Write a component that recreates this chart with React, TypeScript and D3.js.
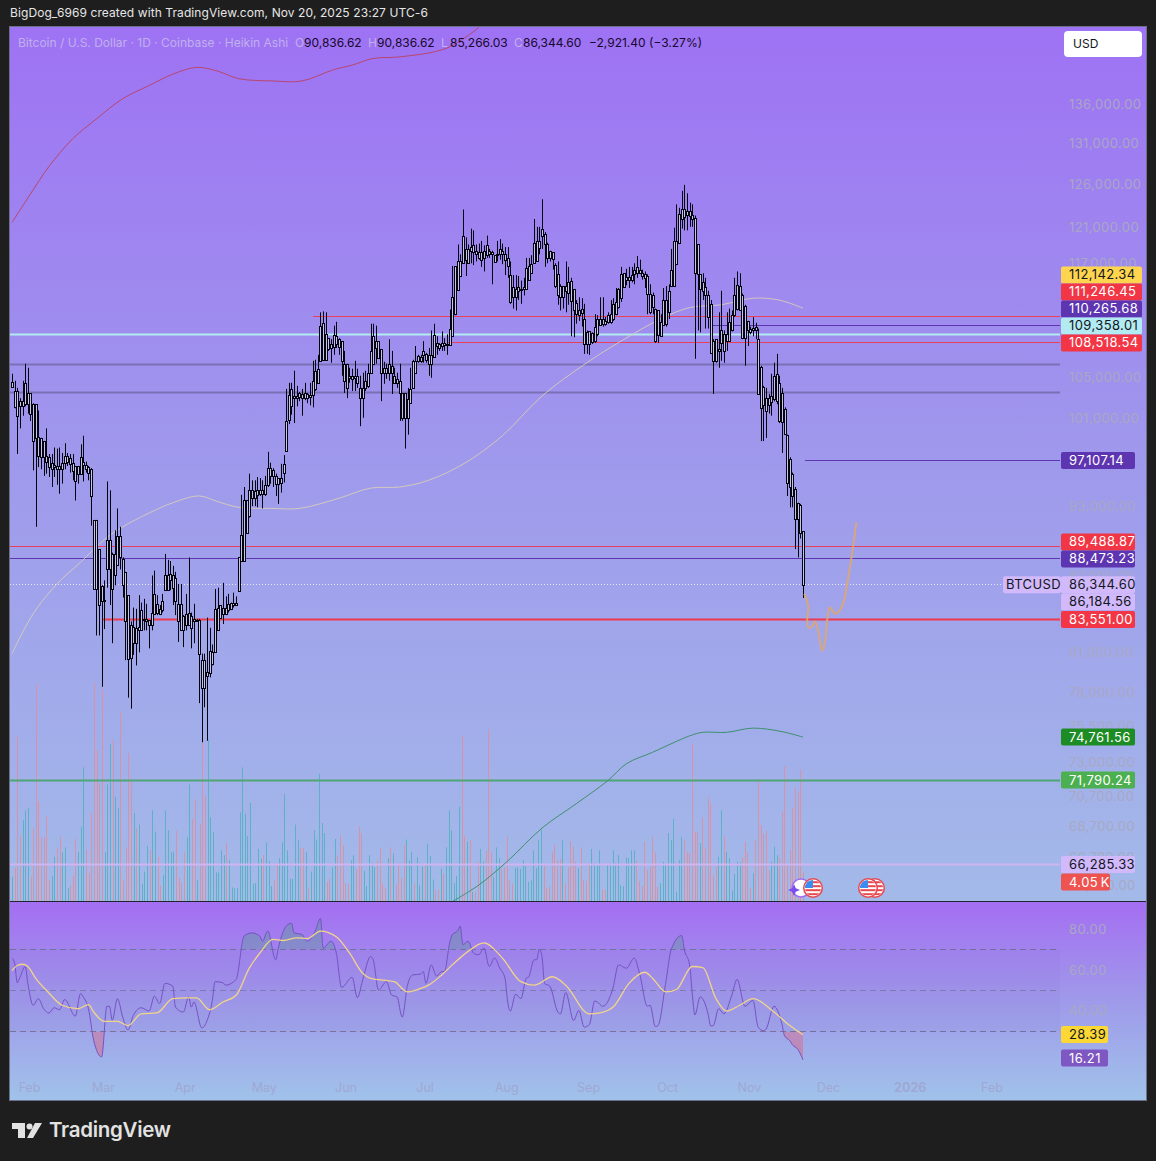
import React from "react";
import * as d3 from "d3";

// BTCUSD daily Heikin Ashi. Prices in thousands of USD.
// each candle: [high, body top, body bottom, low]
const janCandles = [
  [105.4, 104.6, 104.1, 104.0], [104.7, 103.7, 102.1, 102.0], [104.0, 103.7, 101.3, 97.7], [103.0, 102.7, 102.2, 100.1],
  [104.7, 102.7, 102.2, 101.3], [106.4, 104.5, 102.4, 102.2], [106.0, 103.5, 102.4, 101.5], [103.5, 103.5, 101.5, 100.8],
];
const febCandles = [
  [102.5, 102.4, 98.9, 96.2], [102.4, 102.4, 99.2, 91.2], [101.8, 99.3, 97.5, 96.5], [99.2, 99.2, 97.4, 96.3],
  [98.9, 98.9, 97.4, 95.7], [100.1, 97.5, 97.0, 95.9], [97.7, 97.4, 96.5, 95.6], [97.7, 96.9, 96.3, 94.7],
  [98.3, 96.7, 96.5, 95.6], [98.2, 96.6, 96.3, 94.9], [98.3, 96.6, 96.3, 94.1], [97.8, 96.9, 96.3, 95.0],
  [98.7, 97.5, 96.9, 96.3], [97.8, 97.5, 97.0, 96.6], [97.7, 97.3, 96.8, 96.0], [97.7, 96.9, 96.1, 95.3],
  [96.6, 96.6, 95.2, 93.5], [96.6, 96.6, 95.9, 95.0], [98.6, 97.4, 95.9, 95.9], [99.4, 97.0, 96.7, 95.2],
  [97.0, 96.7, 96.3, 96.0], [96.6, 96.5, 96.0, 95.3], [96.4, 96.3, 93.9, 91.3], [91.8, 91.8, 86.0, 86.0],
  [91.8, 91.8, 86.0, 82.3], [89.3, 89.3, 84.7, 82.3], [86.3, 86.2, 85.0, 78.4], [86.7, 85.1, 85.0, 82.8],
];
const marCandles = [
  [95.2, 90.1, 87.6, 86.1], [94.4, 90.1, 87.6, 84.7], [89.0, 88.9, 86.0, 81.7], [90.9, 88.9, 87.1, 86.3],
  [92.8, 90.4, 88.0, 87.9], [91.2, 90.4, 88.6, 87.6], [88.6, 88.5, 86.3, 85.3], [87.4, 87.4, 83.4, 80.4],
  [85.5, 85.5, 80.5, 77.6], [83.4, 83.1, 80.6, 76.8], [84.5, 83.0, 81.7, 80.8], [84.4, 82.9, 81.7, 80.0],
  [85.5, 83.0, 82.7, 81.0], [84.9, 84.3, 82.7, 82.7], [85.2, 83.6, 83.5, 82.7], [84.8, 83.6, 83.4, 82.7],
  [83.5, 83.5, 83.1, 81.3], [87.1, 84.1, 83.1, 82.7], [87.5, 85.6, 84.0, 84.0], [85.5, 84.8, 84.1, 83.9],
  [84.7, 84.4, 84.0, 83.9], [85.6, 85.0, 84.3, 84.1], [88.9, 87.1, 85.9, 85.9], [88.4, 87.1, 85.9, 85.9],
  [88.3, 87.2, 86.7, 85.9], [87.9, 87.1, 86.1, 84.7], [87.4, 86.9, 85.0, 83.9], [86.4, 84.8, 83.4, 81.8],
  [86.4, 84.8, 82.7, 82.7], [83.9, 83.8, 82.7, 81.4], [85.6, 84.0, 83.1, 82.7],
];
const aprCandles = [
  [88.6, 84.1, 83.1, 83.1], [84.1, 83.8, 82.9, 81.3], [84.8, 83.6, 83.4, 81.7], [83.6, 83.5, 83.4, 83.4],
  [83.6, 83.5, 80.9, 77.2], [80.9, 80.4, 78.3, 74.4], [80.9, 80.4, 78.3, 76.9], [83.7, 79.5, 79.2, 74.5],
  [82.9, 81.1, 79.4, 79.1], [81.6, 81.0, 80.1, 80.0], [86.0, 84.4, 81.0, 81.0], [86.1, 84.5, 82.7, 82.7],
  [84.7, 84.7, 83.7, 83.6], [86.5, 84.5, 84.0, 83.2], [85.4, 84.5, 84.0, 83.9], [85.6, 84.8, 84.3, 84.1],
  [84.9, 84.9, 84.4, 84.3], [85.7, 84.9, 84.7, 84.5], [85.4, 84.9, 84.7, 84.7], [88.6, 88.6, 85.8, 85.8],
  [94.0, 90.5, 88.3, 88.3], [94.7, 93.5, 88.3, 88.3], [93.5, 93.5, 90.7, 90.7], [95.9, 94.4, 92.1, 92.0],
  [95.3, 94.4, 93.7, 93.0], [95.3, 94.3, 93.7, 93.0], [95.6, 94.4, 94.0, 92.9], [95.5, 94.4, 94.1, 93.9],
  [95.3, 94.4, 94.1, 92.8], [95.7, 94.9, 94.1, 93.9],
];
const mayCandles = [
  [97.9, 96.4, 94.9, 94.7], [96.9, 96.4, 95.7, 95.0], [96.4, 96.2, 95.7, 94.7], [95.9, 95.7, 95.0, 93.9],
  [95.5, 95.5, 95.0, 93.2], [96.8, 95.5, 95.1, 94.2], [97.6, 96.8, 96.0, 95.1], [103.9, 100.8, 98.0, 98.0],
  [104.5, 103.3, 100.9, 100.5], [104.5, 103.9, 102.2, 101.4], [105.7, 103.2, 103.0, 100.6], [104.2, 103.2, 103.0, 102.2],
  [103.6, 103.5, 103.1, 102.7], [103.9, 103.4, 103.0, 101.3], [104.5, 103.5, 103.0, 102.8], [103.5, 103.4, 103.0, 102.5],
  [104.5, 103.3, 103.1, 102.3], [106.7, 104.7, 103.3, 102.1], [106.8, 105.7, 103.9, 103.7], [107.3, 105.9, 104.5, 104.5],
  [111.7, 110.3, 106.7, 106.7], [111.8, 110.6, 106.8, 106.8], [111.7, 109.4, 106.8, 106.7], [109.0, 109.0, 107.9, 107.7],
  [108.9, 108.4, 108.0, 106.5], [110.3, 109.3, 108.1, 107.3], [110.7, 109.2, 108.4, 108.0], [109.0, 108.9, 108.1, 107.3],
  [108.7, 108.7, 106.7, 105.2], [107.7, 106.4, 104.7, 103.5], [106.4, 106.4, 104.0, 103.0],
];
const junCandles = [
  [106.0, 105.2, 105.0, 104.5], [105.9, 105.2, 104.9, 103.7], [106.7, 105.2, 105.0, 103.7], [105.9, 105.2, 104.5, 104.0],
  [105.2, 104.0, 103.0, 100.3], [105.5, 104.0, 103.0, 101.1], [105.7, 104.7, 104.0, 103.7], [106.4, 105.5, 104.2, 104.0],
  [110.5, 107.7, 105.5, 105.4], [110.5, 109.2, 106.4, 106.4], [110.3, 108.7, 108.0, 106.4], [108.7, 108.7, 107.0, 107.0],
  [107.9, 107.9, 105.5, 102.7], [106.6, 106.0, 105.5, 104.4], [106.4, 106.0, 105.5, 104.9], [108.9, 106.4, 105.5, 104.7],
  [107.7, 106.2, 105.5, 103.4], [106.0, 105.2, 104.5, 104.4], [105.5, 104.9, 104.5, 104.0], [106.4, 104.7, 103.5, 100.8],
  [103.5, 103.5, 101.1, 100.8], [103.5, 103.5, 101.1, 98.2], [104.0, 102.9, 101.1, 99.5], [106.0, 103.9, 102.5, 102.5],
  [106.8, 106.7, 104.0, 104.0], [108.2, 106.7, 105.5, 105.5], [107.3, 107.2, 106.7, 106.5], [107.3, 107.1, 106.7, 106.5],
  [108.7, 107.7, 107.3, 106.5], [107.5, 107.4, 106.8, 106.5],
];
const julCandles = [
  [108.0, 107.3, 106.4, 105.2], [109.8, 107.3, 106.4, 105.0], [110.5, 109.3, 107.1, 107.1], [109.2, 108.5, 108.2, 107.3],
  [108.5, 108.4, 108.0, 107.7], [109.7, 108.5, 108.2, 107.7], [109.0, 108.5, 108.3, 107.7], [109.4, 108.4, 108.3, 107.3],
  [112.0, 110.0, 108.3, 108.3], [116.7, 113.3, 109.2, 109.2], [116.7, 116.7, 111.5, 111.4], [119.1, 117.2, 114.1, 114.1],
  [118.0, 117.2, 115.6, 115.6], [123.1, 120.1, 117.0, 117.0], [119.9, 118.6, 117.4, 115.6], [119.1, 118.6, 117.0, 117.0],
  [120.9, 118.8, 118.4, 117.0], [120.7, 119.0, 118.2, 116.8], [119.1, 118.4, 118.0, 117.2], [119.2, 118.2, 117.6, 117.4],
  [119.5, 118.2, 117.4, 116.6], [119.0, 118.4, 117.6, 116.1], [120.1, 119.0, 117.9, 117.6], [118.6, 118.4, 118.0, 117.6],
  [118.4, 118.3, 118.0, 114.7], [117.9, 117.9, 117.1, 117.1], [119.5, 118.0, 117.9, 117.2], [119.7, 118.6, 118.0, 117.4],
  [119.2, 118.4, 118.0, 116.9], [118.8, 118.0, 117.4, 115.7], [118.8, 117.6, 116.7, 115.4],
];
const augCandles = [
  [117.2, 115.7, 112.8, 112.6], [115.7, 114.4, 113.3, 112.1], [115.7, 114.2, 113.3, 111.9], [115.6, 114.4, 114.0, 113.0],
  [115.1, 114.2, 114.1, 112.6], [115.4, 114.4, 114.2, 113.5], [117.6, 116.5, 114.2, 114.2], [117.6, 116.7, 115.2, 115.1],
  [117.9, 116.9, 115.9, 115.9], [122.0, 119.3, 117.0, 117.0], [121.1, 119.5, 117.2, 117.2], [121.1, 119.5, 118.7, 118.0],
  [124.3, 120.8, 120.0, 118.6], [120.5, 120.3, 119.2, 116.6], [119.3, 119.2, 117.6, 117.0], [118.4, 118.4, 117.6, 117.2],
  [118.2, 118.2, 117.5, 116.3], [117.0, 116.8, 114.5, 114.3], [117.2, 115.8, 113.5, 112.5], [114.7, 114.5, 113.3, 111.9],
  [114.5, 114.5, 113.3, 112.1], [117.2, 114.5, 114.0, 111.7], [116.6, 114.9, 113.8, 112.5], [115.4, 115.1, 112.9, 109.2],
  [114.2, 114.2, 111.9, 109.1], [113.0, 112.7, 111.5, 110.5], [113.3, 111.9, 111.4, 110.8], [113.2, 112.0, 111.6, 110.2],
  [112.6, 111.0, 108.4, 107.4], [109.8, 109.6, 108.4, 107.4], [109.7, 109.7, 108.4, 107.3],
];
const sepCandles = [
  [109.6, 109.5, 108.6, 108.4], [111.5, 110.2, 108.7, 108.5], [111.4, 111.0, 109.4, 109.2], [113.3, 111.0, 110.4, 110.3],
  [113.3, 111.0, 110.5, 110.2], [111.2, 110.8, 110.5, 110.3], [111.7, 111.4, 110.7, 110.5], [113.0, 111.5, 110.7, 110.5],
  [113.2, 112.6, 111.0, 110.8], [114.3, 112.8, 111.5, 111.4], [114.3, 114.2, 112.3, 112.1], [116.6, 115.8, 113.2, 112.8],
  [115.9, 115.9, 114.4, 114.3], [116.4, 115.5, 115.2, 114.6], [116.6, 115.5, 115.2, 114.3], [116.6, 115.7, 115.2, 114.9],
  [117.0, 116.3, 115.8, 114.7], [117.8, 116.6, 115.9, 115.4], [117.4, 116.3, 115.9, 115.8], [116.3, 115.9, 115.6, 115.2],
  [116.1, 115.8, 115.4, 114.3], [115.8, 115.6, 113.7, 111.5], [114.7, 113.7, 111.7, 111.5], [113.8, 113.5, 112.3, 111.5],
  [112.1, 112.0, 108.7, 108.5], [111.9, 111.9, 109.3, 108.5], [111.5, 110.7, 109.2, 109.2], [114.3, 113.0, 110.4, 110.3],
  [114.5, 113.0, 110.5, 110.2], [114.7, 114.0, 111.7, 111.0],
];
const octCandles = [
  [118.6, 116.3, 114.5, 114.4], [121.0, 119.5, 114.5, 114.5], [123.7, 119.5, 116.9, 116.8], [123.3, 122.6, 119.3, 119.3],
  [125.3, 123.2, 122.0, 120.9], [126.0, 123.2, 122.2, 120.7], [125.0, 122.9, 122.5, 120.7], [123.9, 122.9, 122.4, 121.1],
  [123.7, 122.5, 122.0, 121.1], [122.4, 122.1, 115.9, 106.9], [119.1, 119.1, 115.8, 109.8], [115.8, 115.8, 114.2, 109.6],
  [115.9, 114.9, 114.0, 113.0], [115.4, 114.4, 113.5, 110.0], [114.0, 113.5, 111.2, 110.0], [113.0, 112.6, 107.5, 107.4],
  [108.9, 108.7, 106.7, 103.4], [108.9, 108.9, 106.7, 106.5], [111.7, 107.9, 107.7, 106.0], [114.0, 109.9, 108.5, 106.7],
  [109.8, 109.4, 107.7, 106.5], [111.7, 109.4, 108.7, 107.7], [112.1, 110.7, 108.7, 108.7], [111.9, 111.4, 109.8, 109.7],
  [115.4, 113.5, 111.4, 111.2], [116.1, 114.6, 112.0, 111.9], [115.9, 114.5, 111.9, 111.9], [113.7, 113.5, 109.0, 108.9],
  [112.5, 112.4, 109.0, 106.2], [110.8, 110.8, 109.8, 108.2], [110.2, 110.0, 109.6, 109.4],
];
const novCandles = [
  [111.2, 110.1, 109.8, 109.2], [110.6, 110.2, 109.9, 108.9], [110.0, 108.9, 103.4, 103.4], [106.2, 106.1, 102.0, 98.9],
  [104.2, 104.1, 102.3, 98.9], [104.0, 103.0, 101.8, 99.2], [103.4, 103.0, 102.3, 101.5], [105.4, 103.2, 102.6, 101.3],
  [106.5, 105.2, 102.9, 102.7], [107.4, 105.4, 102.7, 102.4], [105.2, 104.5, 100.8, 100.6], [104.0, 103.5, 100.7, 97.8],
  [102.1, 101.9, 99.6, 99.5], [99.5, 99.5, 95.1, 93.9], [97.4, 97.2, 94.7, 92.9], [96.0, 95.9, 93.9, 92.9],
  [94.7, 94.5, 91.9, 89.3], [93.3, 93.3, 91.9, 88.6], [93.2, 93.1, 90.7, 90.2], [90.84, 90.84, 86.34, 85.27],
];

// volume in thousands of BTC, negative = down day
const volumeFirstHalf = [
  3.4, -4.6, -23.0, -9.2, 11.3, 12.7, 13.0, -3.4, -10.1, -30.4, -13.9, -9.0, -8.9, -11.9, -2.9, 3.5, 6.2, -7.5, -9.0, 6.8,
  7.5, 1.8, -2.2, -3.5, -8.7, 6.9, 10.4, 18.7, -7.2, -3.9, -12.3, -30.5, -21.1, -16.5, -29.6, 6.8, 16.3, 22.0, -22.5, 14.6,
  13.0, -26.4, -2.9, -7.5, -20.7, -16.7, 12.3, -10.2, 10.7, 2.4, 4.1, 7.7, -7.1, 12.7, 9.7, -6.2, -2.2, 3.6, 12.7, 9.9,
  6.8, 6.9, -9.8, -3.3, -2.6, -6.9, 9.0, 16.3, -11.5, -14.2, 2.9, -10.8, -22.3, -14.6, 22.6, 11.7, 9.7, 4.0, 4.0, 7.1,
  6.4, -8.1, 5.7, 1.9, 1.8, 1.8, 12.4, 18.7, 12.2, 9.1, 13.7, 2.4, 2.5, 7.3, 5.9, -6.4, 8.2, 5.6, 2.1, -2.9,
  -5.2, 6.0, 8.2, 15.0, 7.1, 3.1, 3.1, 10.7, 8.5, -7.5, -7.4, 6.8, -1.9, 4.1, 9.9, 8.6, 17.8, 10.9, 9.5, -2.7,
  -3.1, 4.7, 8.7, -6.4, -9.2, -7.8, -2.5, -2.4, 5.7, 6.4, -4.5, -10.4, -9.5, 4.2, 2.1, 6.4, 5.3, 4.7, -5.6, -7.4,
  -2.4, -1.8, 6.0, -7.5, 6.7, -2.4, -5.1, -3.2, -7.8, 8.6, 5.7, 6.9, -2.5, 6.1,
];
const volumeSecondHalf = [
  2.2, 4.8, -5.1, 8.0, 6.3, 3.0, -1.6, -1.6, 4.5, -3.8, 7.5, 12.7, 9.9, 2.5, 3.5, 13.2, -23.1, -9.1, 8.3, -8.5,
  1.3, -1.3, -5.5, 7.3, 5.5, -7.1, -24.0, -6.9, 3.4, 7.5, 6.0, -4.6, -4.7, -9.0, -2.9, -2.4, 4.6, 4.7, 4.5, 5.7,
  4.9, 2.7, 2.9, 7.1, 4.6, 8.5, 10.0, -5.0, -1.8, -2.0, -6.8, -7.8, -5.7, -5.8, 8.5, -2.5, -4.7, -8.4, -7.6, -5.5,
  4.6, -7.5, -2.9, -2.8, -5.3, 7.3, 5.1, 5.1, 7.1, -1.6, -1.6, 5.1, 5.2, 7.1, 5.3, 6.4, 2.2, 2.1, 6.1, 6.0,
  7.1, 7.1, -5.7, -2.8, -2.1, -8.3, -4.4, -4.8, -9.0, -6.8, -2.0, 2.5, 5.5, 5.1, 9.5, 8.5, 11.5, 1.3, 5.7, 9.0,
  -8.5, -6.9, -6.7, -21.9, -9.7, -9.6, 8.1, -11.7, -7.4, -14.5, -13.6, -3.6, -4.8, 6.2, 12.7, -9.1, 6.9, 6.0, 1.5, 3.8,
  5.5, 5.4, -6.1, -8.3, -6.8, -1.8, 3.9, -8.5, -16.7, -10.6, -9.4, -9.8, -4.3, 5.5, 7.6, 6.4, -6.0, -12.5, -18.9, -5.0,
  -7.1, -13.0, -15.8, -15.3, -18.4, -4.05,
];

// moving averages, sampled by bar number (0 = Jan 24 2025), prices in thousands
const maRedBars = [0, 8, 14, 23, 32, 42, 52, 61, 70, 78, 86, 99, 110, 122, 129, 137, 147, 165, 177];
const maRedValues = [121.6, 125.4, 128.2, 131.6, 134.1, 136.7, 138.4, 139.9, 140.8, 140.3, 139.3, 139.0, 139.0, 140.5, 141.1, 142.0, 142.2, 143.4, 146.2];
const maTanBars = [0, 8, 17, 26, 35, 42, 52, 61, 71, 78, 86, 99, 109, 124, 136, 147, 158, 172, 186, 201, 218, 231, 246, 257, 269, 281, 291, 300];
const maTanValues = [80.9, 84.0, 86.4, 88.2, 90.1, 91.2, 92.4, 93.3, 93.9, 93.4, 92.9, 92.8, 92.8, 93.7, 94.6, 94.7, 95.3, 96.9, 99.4, 103.2, 106.5, 108.7, 111.0, 112.2, 112.5, 113.2, 113.0, 112.14];
const maGreenBars = [167, 177, 188, 201, 214, 226, 233, 243, 257, 262, 271, 281, 292, 300];
const maGreenValues = [64.0, 65.0, 66.5, 68.6, 70.2, 71.75, 72.9, 73.7, 74.85, 75.1, 75.1, 75.4, 75.15, 74.76];
const projectionBars = [300.5, 302, 301.6, 302, 303.5, 304.6, 305.7, 307.3, 308.4, 309.2, 310.3, 312.2, 314.8, 317.2, 319, 320.2];
const projectionValues = [85.6, 84.6, 83.6, 82.9, 83.0, 83.4, 82.7, 81.1, 81.9, 83.6, 84.5, 84.0, 84.6, 87.0, 89.5, 91.6];

const rsiBars = [
  0, 1, 2, 3, 5, 6, 8, 10, 12, 14, 16, 18, 20, 24, 26, 27, 29, 31, 34, 36, 37, 38, 40, 42, 44, 46, 49, 52, 54, 56, 58, 61, 62, 65, 67, 68, 69, 72, 74, 76,
  77, 80, 81, 85, 88, 91, 94, 95, 97, 100, 101, 104, 106, 107, 110, 112, 115, 117, 118, 121, 123, 125, 129, 131, 133, 136, 137, 139, 142, 144, 146, 148, 150, 152, 155,
  156, 157, 159, 161, 163, 164, 166, 167, 169, 170, 171, 173, 175, 177, 179, 181, 183, 185, 187, 188, 189, 191, 193, 195, 196, 198, 199, 200, 201, 202, 204, 207, 208, 210, 213, 215, 217, 219, 221, 222,
  224, 228, 230, 233, 236, 238, 241, 242, 244, 245, 248, 250, 254, 255, 257, 258, 259, 261, 264, 265, 266, 268, 270, 273, 275, 278, 281, 283, 285, 286, 289, 292, 293, 295, 296, 298, 300,
];
const rsiValues = [
  65.8, 63.3, 53.8, 56.4, 61.7, 53.5, 42.8, 46, 41.1, 39, 41.6, 40.6, 45.6, 37.5, 48.5, 46.9, 41.1, 25.5, 17.6, 42.3, 42.3, 35.4, 46, 37, 30.7, 37.8, 41.6, 40, 47.2, 43.6, 53.5, 52.1, 41.9, 39.5, 46.9, 41.9, 44.4, 31.7, 35.4, 45.2,
  54.3, 53.8, 52.6, 55.4, 76.5, 78.1, 76.5, 74, 79, 65, 70.7, 81.4, 82.8, 78.1, 77.3, 74, 79, 85.1, 70.7, 74, 68.3, 51.5, 56.4, 46.5, 55.1, 66.6, 65, 50.2, 54.3, 47.7, 46.9, 37, 52.6, 57.6, 58,
  59.2, 53.5, 62.5, 57.1, 59.2, 59.2, 73.2, 77.3, 79, 81.4, 72.4, 74, 68.3, 67.4, 70.7, 61.7, 65.8, 60.9, 55.9, 44.4, 40, 48.2, 46, 55.9, 56.7, 65, 65, 70.2, 66.6, 53.5, 52.1, 39.5, 38.6, 49, 35.4, 40.3, 32.1, 33.4, 44.9, 44.4,
  42.3, 51.5, 62.5, 60.9, 65.8, 58.4, 42.3, 42.8, 32.4, 32.9, 54.3, 69.9, 76.8, 69.9, 62.5, 48.5, 38.1, 46.9, 38.6, 32.7, 32.9, 41.1, 38.6, 47.7, 55.4, 42.3, 45.2, 32.1, 30.4, 31.2, 42.3, 33.7, 27.9, 25.5, 23.5, 21.4, 16.21,
];
const rsiMaBars = [
  0, 2, 4, 6, 9, 14, 19, 25, 29, 31, 35, 40, 44, 49, 55, 61, 66, 70, 75, 80, 85, 90, 94, 99, 103, 108, 112, 117, 123, 128, 133, 136, 145, 150, 155,
  158, 163, 167, 173, 179, 186, 193, 198, 205, 210, 219, 223, 228, 234, 240, 243, 248, 252, 258, 262, 267, 271, 276, 281, 289, 295, 300,
];
const rsiMaValues = [
  59.7, 62.2, 62.8, 61.7, 55.9, 48.8, 42.8, 41.1, 43.1, 39.5, 34.9, 34.9, 32.9, 38.6, 39.1, 46, 46.4, 46.4, 40.6, 44.4, 47.7, 60.9, 68.3, 74.9, 74.4, 75.7, 75.3, 79, 76.2, 68.3, 58.4, 55.9, 54.3, 49.3, 51,
  52.6, 57.6, 62.5, 69.1, 73.2, 65.8, 54.3, 52.6, 56.7, 52.6, 38.6, 39.1, 41.9, 53.5, 58.9, 55.9, 49.3, 50.5, 61.7, 61.2, 46, 40, 42.8, 46, 39.5, 32.9, 28.39,
];
const rsiLevels = [70, 50, 30];

// right hand scale
const priceTicks = [136, 131, 126, 121, 117, 105, 101, 93, 87, 81, 78, 75.5, 73, 70.7, 68.7, 66.7, 65];
const rsiTicks = [80, 60, 40];
const monthLabels = ["Feb", "Mar", "Apr", "May", "Jun", "Jul", "Aug", "Sep", "Oct", "Nov", "Dec", "2026", "Feb"];
const monthDates = [[2025, 1], [2025, 2], [2025, 3], [2025, 4], [2025, 5], [2025, 6], [2025, 7], [2025, 8], [2025, 9], [2025, 10], [2025, 11], [2026, 0], [2026, 1]];

// price tags, USD
const tagValues = [112142.34, 111246.45, 110265.68, 109358.01, 108518.54, 97107.14, 89488.87, 88473.23, 86344.6, 83551.0, 74761.56, 71790.24, 66285.33];
const secondRowValue = 86184.56;
const volumeNow = "4.05\u2009K";
const rsiNow = 16.21;
const rsiMaNow = 28.39;

const legendOHLC = [
  ["O", "90,836.62"], ["H", "90,836.62"], ["L", "85,266.03"], ["C", "86,344.60"],
];

// styles per tag, same order as tagValues
const TAG_FILL = ["#ffd54f", "#f23645", "#5e35b1", "#b2ebf2", "#f23645", "#5e35b1", "#f23645", "#5e35b1", "#d1b9fb", "#f23645", "#1e8c24", "#4caf50", "#d1b9fb"];
const TAG_INK = ["#131722", "#fff", "#fff", "#131722", "#fff", "#fff", "#fff", "#fff", "#131722", "#fff", "#fff", "#fff", "#131722"];

const W = 1156;
const H = 1161;
const PANE_L = 10;
const PANE_R = 1146;
const PLOT_R = 1060;
const TOP = 27;
const PRICE_B = 901;
const RSI_T = 902;
const RSI_B = 1100;
const FONT = "Inter, 'Liberation Sans', sans-serif";
const TICK_INK = "#a8a8c4";

const candles = [
  ...janCandles, ...febCandles, ...marCandles, ...aprCandles, ...mayCandles, ...junCandles,
  ...julCandles, ...augCandles, ...sepCandles, ...octCandles, ...novCandles,
];
const volume = [...volumeFirstHalf, ...volumeSecondHalf];

const startMs = Date.UTC(2025, 0, 24);
const dateOf = (bar: number) => new Date(startMs + bar * 864e5);
const x = d3.scaleUtc().domain([dateOf(0), dateOf(300)]).range([12, 803]);
const barX = (bar: number) => x(dateOf(bar)) as number;
const y = d3.scaleLog().domain([146.18, 63.99]).range([TOP + 0.7, PRICE_B + 0.7]);
const volY = d3.scaleLinear().domain([0, 30.5]).range([PRICE_B, 683]);
const rsiY = d3.scaleLinear().domain([50, 70]).range([990.5, 949.5]);
const money = d3.format(",.2f");
// snap a one pixel level line onto the pixel grid
const crisp = (v: number) => Math.floor(y(v)) + 0.5;

function makeLine(bars: number[], vals: number[], scale: (v: number) => number, curve: any = d3.curveMonotoneX) {
  const pts = bars.map((b, i) => [barX(b), scale(vals[i])] as [number, number]);
  return d3.line().curve(curve)(pts) as string;
}

const rsiPts = rsiBars.map((b, i) => [barX(b), rsiValues[i]] as [number, number]);
const rsiArea = (level: number) =>
  d3.area<[number, number]>()
    .curve(d3.curveMonotoneX)
    .x((d) => d[0])
    .y0(rsiY(level))
    .y1((d) => rsiY(d[1]))(rsiPts) as string;

// bottom-up stacking, same as the platform does with overlapping labels
function stackTags() {
  const order = tagValues.map((v, i) => ({ v, i })).sort((a, b) => a.v - b.v);
  const out: number[] = [];
  let prev = Infinity;
  order.forEach(({ v, i }) => {
    let py = y(v / 1000);
    if (prev - py < 17) py = prev - 17;
    out[i] = py;
    prev = py;
  });
  return out;
}
const tagY = stackTags();

function Tag(props: { x?: number; y: number; w: number; fill: string; ink: string; text: string; textX?: number }) {
  const left = props.x ?? 1061;
  return (
    <g>
      <rect x={left} y={props.y - 8.5} width={props.w} height={17} rx={2} fill={props.fill} />
      <text x={props.textX ?? 1069} y={props.y + 4.5} fontSize={13} letterSpacing={0.4} fill={props.ink} fontFamily={FONT}>
        {props.text}
      </text>
    </g>
  );
}

function FlagIcon({ cx, cy, id }: { cx: number; cy: number; id: string }) {
  return (
    <g>
      <clipPath id={id}>
        <circle cx={cx} cy={cy} r={8} />
      </clipPath>
      <circle cx={cx} cy={cy} r={10} fill="#e8474f" />
      <circle cx={cx} cy={cy} r={8.5} fill="#fff" />
      <g clipPath={`url(#${id})`}>
        {[-6, -2, 2, 6].map((d) => (
          <rect key={d} x={cx - 9} y={cy + d - 0.8} width={18} height={2} fill="#e8474f" />
        ))}
        <rect x={cx - 9} y={cy - 9} width={9} height={9} fill="#3a8df0" />
      </g>
    </g>
  );
}

export default function App() {
  return (
    <svg
      width={W}
      height={H}
      viewBox={`0 0 ${W} ${H}`}
      style={{ position: "fixed", left: 0, top: 0, display: "block" }}
    >
      <defs>
        <linearGradient id="priceBg" x1="0" y1="0" x2="0" y2="1">
          <stop offset="0" stopColor="#9e72f4" />
          <stop offset="0.5" stopColor="#9f99ec" />
          <stop offset="1" stopColor="#a3bae9" />
        </linearGradient>
        <linearGradient id="rsiBg" x1="0" y1="0" x2="0" y2="1">
          <stop offset="0" stopColor="#a46ef2" />
          <stop offset="0.5" stopColor="#9f9aea" />
          <stop offset="1" stopColor="#a0c2ea" />
        </linearGradient>
        <linearGradient id="obFill" x1="0" y1="0" x2="0" y2="1">
          <stop offset="0" stopColor="#6f8fb0" stopOpacity="0.65" />
          <stop offset="1" stopColor="#7f9fc0" stopOpacity="0.25" />
        </linearGradient>
        <linearGradient id="osFill" x1="0" y1="0" x2="0" y2="1">
          <stop offset="0" stopColor="#e07a90" stopOpacity="0.05" />
          <stop offset="1" stopColor="#e0607a" stopOpacity="0.5" />
        </linearGradient>
        <clipPath id="priceClip">
          <rect x={PANE_L} y={TOP} width={PLOT_R - PANE_L} height={PRICE_B - TOP} />
        </clipPath>
        <clipPath id="aboveBand">
          <rect x={PANE_L} y={RSI_T} width={PLOT_R - PANE_L} height={rsiY(70) - RSI_T} />
        </clipPath>
        <clipPath id="belowBand">
          <rect x={PANE_L} y={rsiY(30)} width={PLOT_R - PANE_L} height={RSI_B - rsiY(30)} />
        </clipPath>
      </defs>

      <rect width={W} height={H} fill="#1e1e1e" />
      <text x={10} y={17} fontSize={12} letterSpacing={0.09} fill="#e6e6e6" fontFamily={FONT}>
        BigDog_6969 created with TradingView.com, Nov 20, 2025 23:27 UTC-6
      </text>

      {/* panes */}
      <rect x={PANE_L} y={TOP} width={PANE_R - PANE_L} height={PRICE_B - TOP} fill="url(#priceBg)" />
      <rect x={PANE_L} y={RSI_T} width={PANE_R - PANE_L} height={RSI_B - RSI_T} fill="url(#rsiBg)" />
      <rect x={PANE_L - 0.5} y={TOP - 0.5} width={PANE_R - PANE_L + 1} height={RSI_B - TOP + 1} fill="none" stroke="#6c7088" />

      {/* price scale text sits under the tags */}
      {priceTicks.map((t) => (
        <text key={t} x={1069} y={y(t) + 4.5} fontSize={13} letterSpacing={0.4} fill={TICK_INK} fontFamily={FONT}>
          {money(t * 1000)}
        </text>
      ))}

      <g clipPath="url(#priceClip)">
        {/* volume */}
        {volume.map((v, i) => {
          const px = Math.round(barX((i * 300) / (volume.length - 1)));
          return (
            <rect
              key={i}
              x={px}
              y={volY(Math.abs(v))}
              width={1}
              height={PRICE_B - volY(Math.abs(v))}
              fill={v < 0 ? "#d693a6" : "#5cb2c4"}
            />
          );
        })}

        {/* horizontal levels */}
        <line x1={PANE_L} x2={PLOT_R} y1={crisp(106.3)} y2={crisp(106.3)} stroke="#7b70b6" strokeWidth={2} />
        <line x1={PANE_L} x2={PLOT_R} y1={crisp(103.5)} y2={crisp(103.5)} stroke="#7b70b6" strokeWidth={2} />
        <line x1={PANE_L} x2={PLOT_R} y1={crisp(109.358)} y2={crisp(109.358)} stroke="#b2ebf2" strokeWidth={2} />
        <line x1={313} x2={PLOT_R} y1={crisp(111.246)} y2={crisp(111.246)} stroke="#e8405a" />
        <line x1={448} x2={PLOT_R} y1={crisp(108.519)} y2={crisp(108.519)} stroke="#e8405a" />
        <line x1={712} x2={PLOT_R} y1={crisp(110.266)} y2={crisp(110.266)} stroke="#5e35b1" />
        <line x1={805} x2={PLOT_R} y1={crisp(97.107)} y2={crisp(97.107)} stroke="#5e35b1" />
        <line x1={PANE_L} x2={PLOT_R} y1={crisp(89.489)} y2={crisp(89.489)} stroke="#e8405a" />
        <line x1={PANE_L} x2={PLOT_R} y1={crisp(88.473)} y2={crisp(88.473)} stroke="#5e35b1" />
        <line x1={PANE_L} x2={1003} y1={crisp(86.345)} y2={crisp(86.345)} stroke="#e6e6fa" strokeDasharray="1 2" />
        <line x1={103} x2={PLOT_R} y1={crisp(83.551)} y2={crisp(83.551)} stroke="#ee3a4c" strokeWidth={2} />
        <line x1={PANE_L} x2={PLOT_R} y1={crisp(71.79)} y2={crisp(71.79)} stroke="#4fa574" strokeWidth={2} />
        <line x1={PANE_L} x2={PLOT_R} y1={crisp(66.285)} y2={crisp(66.285)} stroke="#cfb6f2" strokeWidth={2} />

        {/* moving averages */}
        <path d={makeLine(maRedBars, maRedValues, y, d3.curveCatmullRom)} fill="none" stroke="#b8466e" strokeWidth={1} />
        <path d={makeLine(maTanBars, maTanValues, y, d3.curveCatmullRom)} fill="none" stroke="#dcd0b4" strokeWidth={1} opacity={0.85} />
        <path d={makeLine(maGreenBars, maGreenValues, y, d3.curveCatmullRom)} fill="none" stroke="#3f8f6c" strokeWidth={1} />

        {/* candles */}
        {candles.map((c, i) => {
          const px = Math.round(barX(i));
          const top = Math.round(y(c[1]));
          const bottom = Math.round(y(c[2]));
          return (
            <g key={i}>
              <line x1={px + 0.5} x2={px + 0.5} y1={y(c[0])} y2={y(c[3])} stroke="#05050f" />
              <rect
                x={px - 0.5}
                y={top + 0.5}
                width={2}
                height={Math.max(bottom - top, 1)}
                fill="#c6c3ee"
                stroke="#05050f"
                strokeWidth={1}
              />
            </g>
          );
        })}

        <path
          d={makeLine(projectionBars, projectionValues, y, d3.curveCatmullRom)}
          fill="none"
          stroke="#e0a76c"
          strokeWidth={2}
          opacity={0.85}
        />
      </g>

      {/* event icons */}
      <g>
        <circle cx={801} cy={888} r={9} fill="#fff" stroke="#a06df5" strokeWidth={1.5} />
        <path d="M794 884l1.8 4.2 4.2 1.8-4.2 1.8-1.8 4.2-1.8-4.2-4.2-1.8 4.2-1.8z" fill="#7a4df0" />
        <FlagIcon cx={813} cy={888} id="flagA" />
        <FlagIcon cx={875} cy={888} id="flagB" />
        <FlagIcon cx={868} cy={888} id="flagC" />
      </g>

      {/* pane separator */}
      <line x1={PANE_L} x2={PANE_R} y1={901.5} y2={901.5} stroke="#22242e" />

      {/* price tags */}
      {tagValues.map((v, i) => (
        <Tag
          key={v}
          y={tagY[i]}
          w={v >= 100000 ? 81 : 74}
          fill={TAG_FILL[i]}
          ink={TAG_INK[i]}
          text={money(v)}
        />
      ))}
      <Tag y={tagY[8] + 17} w={74} fill={TAG_FILL[8]} ink={TAG_INK[8]} text={money(secondRowValue)} />
      <Tag x={1003} y={tagY[8]} w={58} fill={TAG_FILL[8]} ink={TAG_INK[8]} text="BTCUSD" textX={1006} />
      <Tag y={882} w={49} fill="#ef5350" ink="#fff" text={volumeNow} />

      {/* legend */}
      <text x={18} y={47} fontSize={12} fill="#c0b0ee" fontFamily={FONT}>
        Bitcoin / U.S. Dollar · 1D · Coinbase · Heikin Ashi
      </text>
      {legendOHLC.map(([k, v], i) => (
        <g key={k} fontSize={12} fontFamily={FONT}>
          <text x={295 + i * 73} y={47} fill="#c0b0ee">{k}</text>
          <text x={304 + i * 73} y={47} fill="#16082e">{v}</text>
        </g>
      ))}
      <text x={589} y={47} fontSize={12} fill="#16082e" fontFamily={FONT}>
        −2,921.40 (−3.27%)
      </text>
      <rect x={1064} y={31} width={78} height={26} rx={4} fill="#fff" />
      <text x={1073} y={48} fontSize={12} fill="#131722" fontFamily={FONT}>USD</text>

      {/* RSI pane */}
      <rect x={PANE_L} y={rsiY(70)} width={PLOT_R - PANE_L} height={rsiY(30) - rsiY(70)} fill="#7e57c2" opacity={0.06} />
      {rsiLevels.map((l) => (
        <line
          key={l}
          x1={PANE_L}
          x2={PLOT_R}
          y1={rsiY(l)}
          y2={rsiY(l)}
          stroke="#6a6a90"
          strokeOpacity={l === 50 ? 0.6 : 0.85}
          strokeDasharray="6 4"
        />
      ))}
      <path d={rsiArea(70)} fill="url(#obFill)" clipPath="url(#aboveBand)" />
      <path d={rsiArea(30)} fill="url(#osFill)" clipPath="url(#belowBand)" />
      <path d={makeLine(rsiBars, rsiValues, rsiY)} fill="none" stroke="#7552c4" strokeWidth={1} />
      <path d={makeLine(rsiMaBars, rsiMaValues, rsiY)} fill="none" stroke="#f2d488" strokeWidth={1.3} />
      {rsiTicks.map((t) => (
        <text key={t} x={1069} y={rsiY(t) + 4.5 - (t === 40 ? 1 : 0)} fontSize={13} letterSpacing={0.4} fill={TICK_INK} fontFamily={FONT}>
          {t.toFixed(2)}
        </text>
      ))}
      <Tag y={1034.5} w={47} fill="#fdd835" ink="#131722" text={rsiMaNow.toFixed(2)} />
      <Tag y={1058} w={47} fill="#7e57c2" ink="#fff" text={rsiNow.toFixed(2)} />

      {/* time axis */}
      {monthLabels.map((m, i) => {
        const d = new Date(Date.UTC(monthDates[i][0], monthDates[i][1], 1));
        return (
          <text
            key={m + i}
            x={(x(d) as number) - 3.5}
            y={1092}
            textAnchor="middle"
            fontSize={12.5}
            fontWeight={m === "2026" ? 700 : 400}
            fill="#9f9fcb"
            opacity={0.7}
            fontFamily={FONT}
          >
            {m}
          </text>
        );
      })}

      {/* footer logo */}
      <g fill="#e2e2e2">
        <path d="M12 1123h13v15h-7v-9h-6z" />
        <circle cx={29.5} cy={1126.5} r={3} />
        <path d="M35 1123h7l-9 15h-6z" />
      </g>
      <text x={49} y={1137} fontSize={20.5} fontWeight={600} fill="#e2e2e2" fontFamily={FONT} letterSpacing={-0.3}>
        TradingView
      </text>
    </svg>
  );
}
